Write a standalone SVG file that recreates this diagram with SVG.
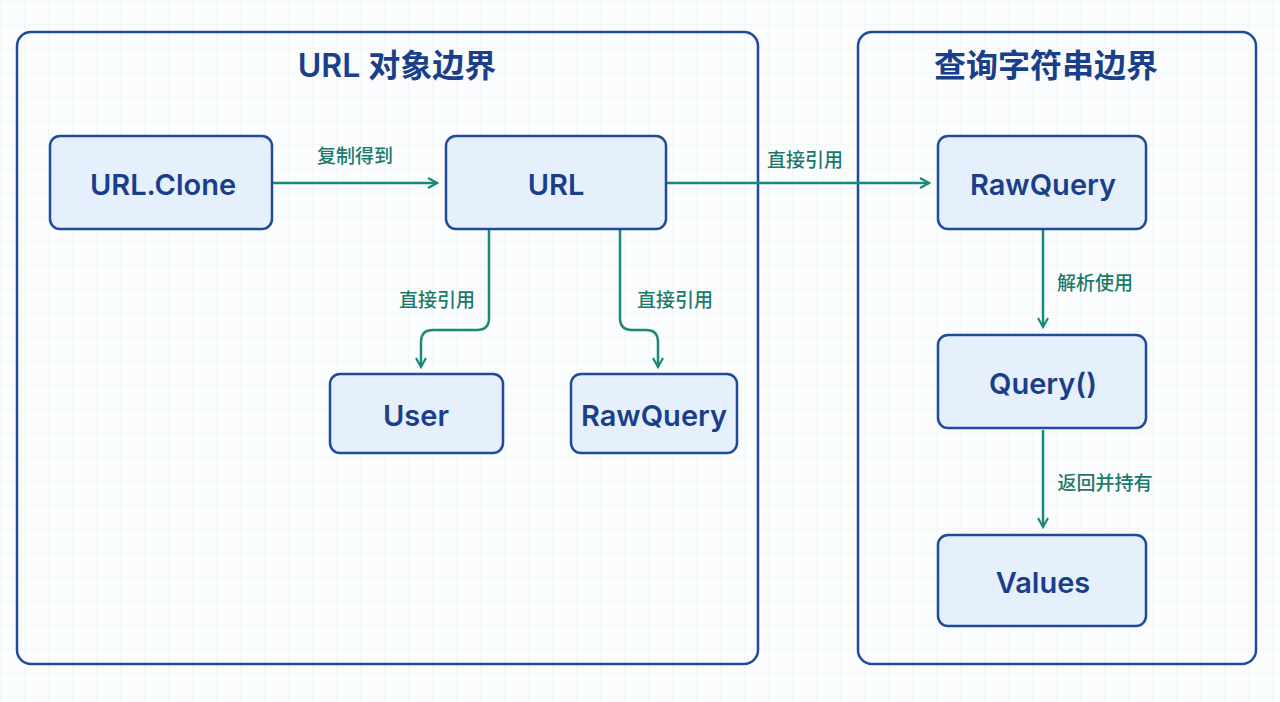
<svg xmlns="http://www.w3.org/2000/svg" width="1280" height="702" viewBox="0 0 1280 702">
<defs>
<pattern id="grid" width="24" height="24" patternUnits="userSpaceOnUse"><path d="M24 0H0V24" fill="none" stroke="#eef1f4" stroke-width="1"/></pattern>
<marker id="ah" viewBox="0 0 12 12" refX="10" refY="6" markerWidth="12" markerHeight="12" markerUnits="userSpaceOnUse" orient="auto"><path d="M1 1L10 6L1 11" fill="none" stroke="#1a8a78" stroke-width="2.2"/></marker>
</defs>
<style>
.frame{fill:none;stroke:#1f4b9c;stroke-width:2.5}
.box{fill:#e6f0fc;stroke:#1f4b9c;stroke-width:2.5}
.t{font-family:Inter,"Noto Sans CJK SC",sans-serif;font-weight:600;fill:#1a3f8a;text-anchor:middle}
.n{font-size:29px}
.h{font-size:32px}
.c{stroke:#1a8a78;stroke-width:2.5;fill:none;marker-end:url(#ah)}
.l{font-family:"Noto Sans CJK SC",sans-serif;font-size:19px;fill:#1a7a6a;font-weight:500;text-anchor:middle}
</style>
<rect width="1280" height="702" fill="#fbfcfd"/>
<rect width="1280" height="702" fill="url(#grid)"/>
<g id="frame-url"><rect class="frame" x="17" y="32" width="741" height="632" rx="14"/><text class="t h" x="397" y="77">URL 对象边界</text></g>
<g id="frame-query"><rect class="frame" x="858" y="32" width="398" height="632" rx="14"/><text class="t h" x="1046" y="77">查询字符串边界</text></g>
<g id="connectors">
<path class="c" d="M273 183H437"/><text class="l" x="355" y="163">复制得到</text>
<path class="c" d="M667 183H929"/><text class="l" x="805" y="167">直接引用</text>
<path class="c" d="M489 230V318Q489 330 477 330H433Q421 330 421 342V367"/><text class="l" x="437" y="307">直接引用</text>
<path class="c" d="M620 230V318Q620 330 632 330H646Q658 330 658 342V367"/><text class="l" x="675" y="307">直接引用</text>
<path class="c" d="M1043 230V327"/><text class="l" x="1095" y="290">解析使用</text>
<path class="c" d="M1043 430V527"/><text class="l" x="1105" y="490">返回并持有</text>
</g>
<g id="n-clone"><rect class="box" x="50" y="136" width="222" height="93" rx="10"/><text class="t n" x="163" y="195">URL.Clone</text></g>
<g id="n-url"><rect class="box" x="446" y="136" width="220" height="93" rx="10"/><text class="t n" x="556" y="195">URL</text></g>
<g id="n-user"><rect class="box" x="330" y="374" width="173" height="79" rx="10"/><text class="t n" x="416" y="426">User</text></g>
<g id="n-raw1"><rect class="box" x="571" y="374" width="166" height="79" rx="10"/><text class="t n" x="654" y="426">RawQuery</text></g>
<g id="n-raw2"><rect class="box" x="938" y="136" width="208" height="93" rx="10"/><text class="t n" x="1043" y="195">RawQuery</text></g>
<g id="n-query"><rect class="box" x="938" y="335" width="208" height="93" rx="10"/><text class="t n" x="1043" y="394">Query()</text></g>
<g id="n-values"><rect class="box" x="938" y="535" width="208" height="91" rx="10"/><text class="t n" x="1043" y="593">Values</text></g>
</svg>
